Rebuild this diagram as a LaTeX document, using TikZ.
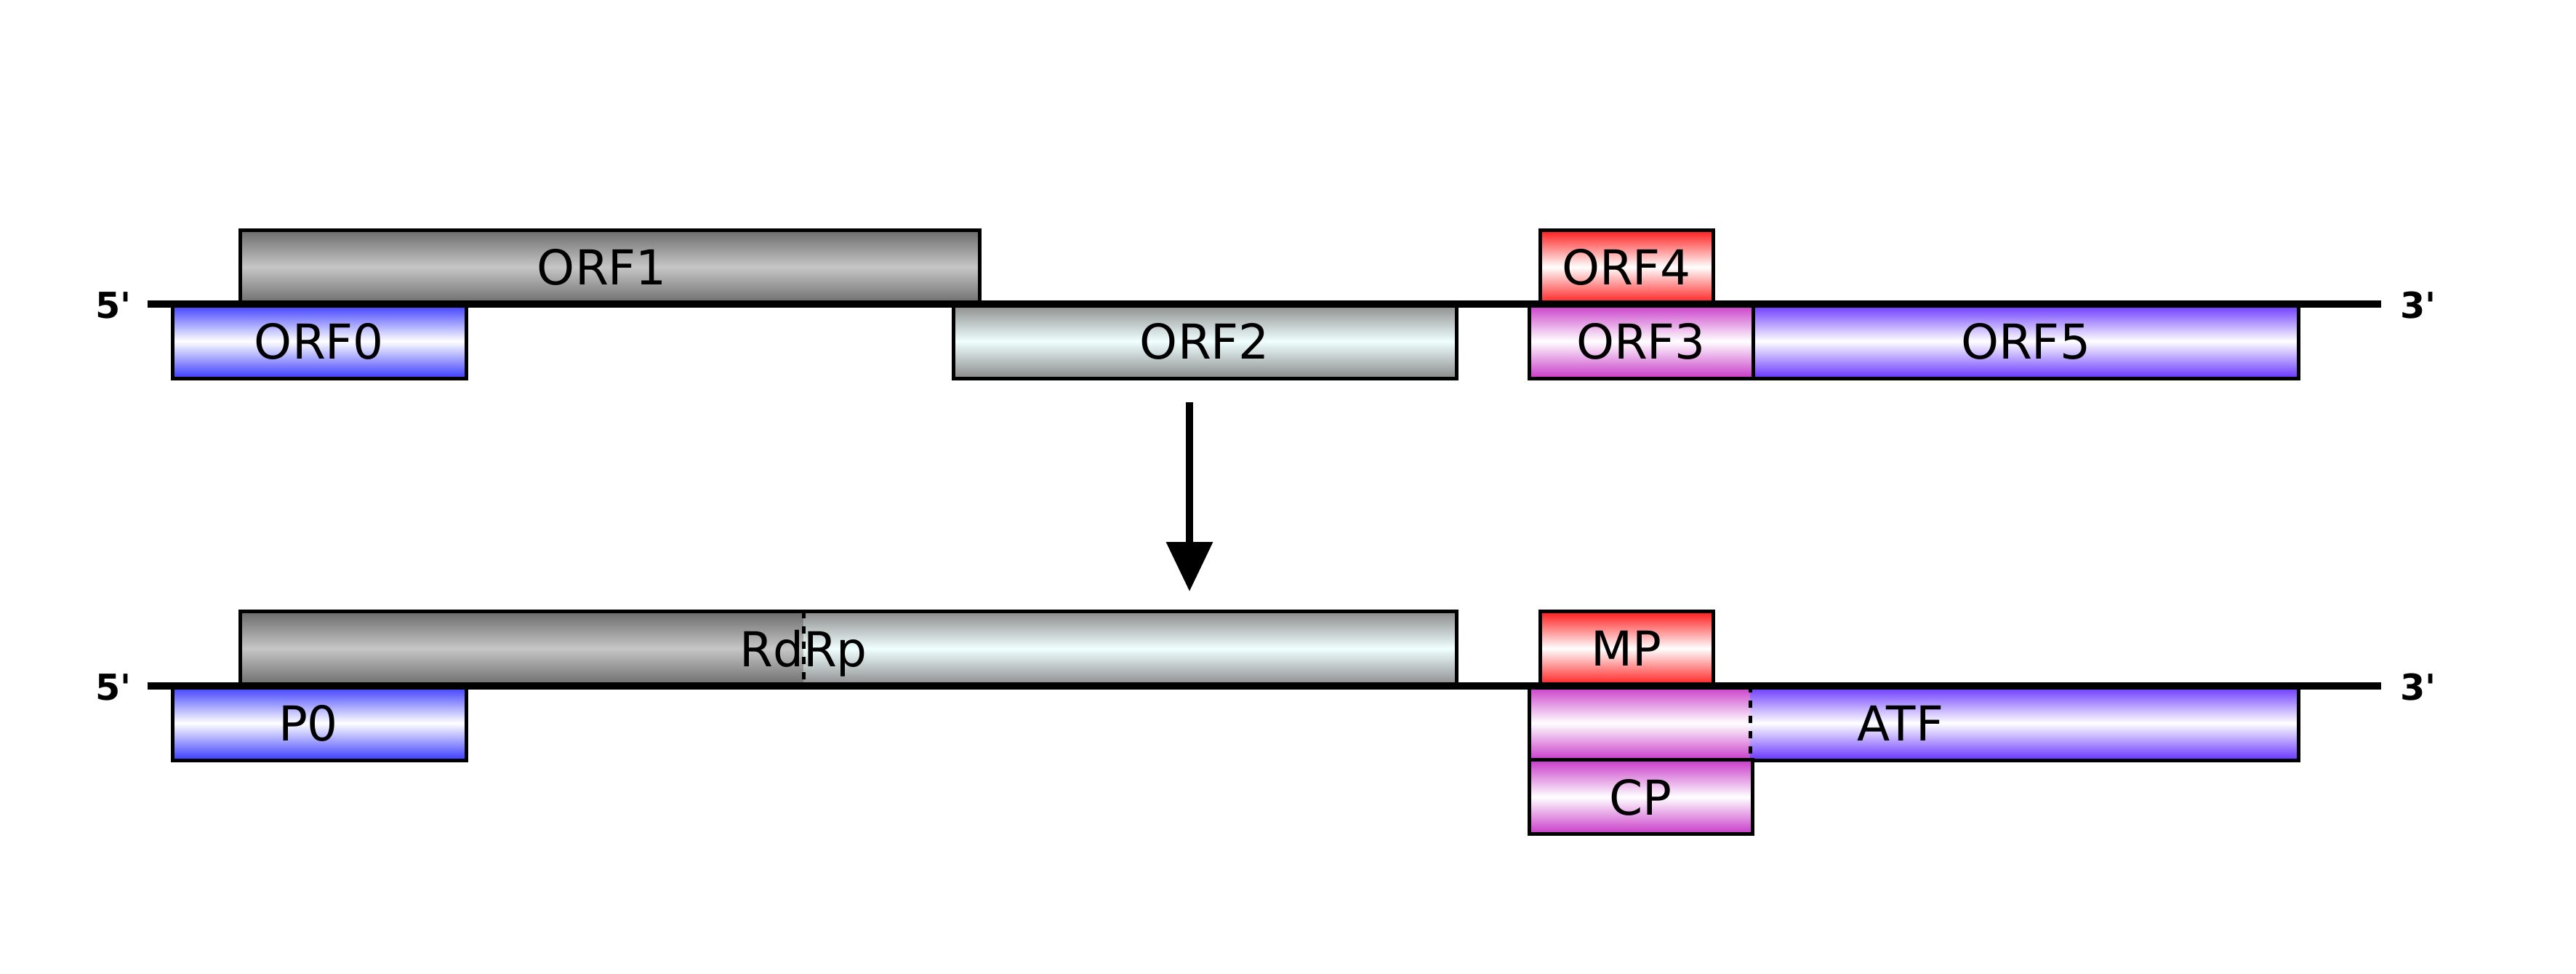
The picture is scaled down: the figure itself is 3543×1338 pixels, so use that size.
\documentclass[tikz,border=0pt]{standalone}
\usepackage{fontspec}
\setmainfont{DejaVu Sans}
\usetikzlibrary{arrows.meta}

\def\px{0.01cm}
\def\bh{102}
\def\lbl{\fontsize{18.8}{22}\selectfont}
\def\pr{\textquotesingle}
\definecolor{grayedge}{HTML}{6B6B6B}
\definecolor{graymid}{HTML}{C6C6C6}
\definecolor{silveredge}{HTML}{8A8A8A}
\definecolor{silvermid}{HTML}{F0FFFF}
\definecolor{blueedge}{HTML}{3A3AFF}
\definecolor{rededge}{HTML}{FF1A1A}
\definecolor{pinkedge}{HTML}{C838C8}
\definecolor{violetedge}{HTML}{6633FF}

\tikzstyle{box}=[rectangle,draw=black,line width=1.42pt,inner sep=0pt,minimum height=\bh*\px,font=\lbl,text depth=0pt]
\tikzstyle{part}=[rectangle,draw=none,inner sep=0pt,minimum height=\bh*\px]
\tikzstyle{gr}=[top color=grayedge,bottom color=grayedge,middle color=graymid]
\tikzstyle{sv}=[top color=silveredge,bottom color=silveredge,middle color=silvermid]
\tikzstyle{bl}=[top color=blueedge,bottom color=blueedge,middle color=white]
\tikzstyle{re}=[top color=rededge,bottom color=rededge,middle color=white]
\tikzstyle{pk}=[top color=pinkedge,bottom color=pinkedge,middle color=white]
\tikzstyle{vi}=[top color=violetedge,bottom color=violetedge,middle color=white]
\tikzstyle{lab}=[font=\lbl,text depth=0pt,inner sep=0pt]
\tikzstyle{prime}=[font=\fontsize{14}{16}\selectfont\bfseries,inner sep=0pt]
\tikzstyle{genome}=[line width=2.85pt]
\tikzstyle{split}=[line width=1.42pt,dash pattern=on 2.85pt off 3.13pt]
\tikzstyle{flow}=[line width=2.85pt,-{Triangle[width=17.6pt,length=19.3pt]}]

\begin{document}
\begin{tikzpicture}[x=\px,y=-\px]
	\fill[white](0,0) rectangle (3543,1338);
	\useasboundingbox (0,0) rectangle (3543,1338);
	% ORFs
	\node[box,gr,minimum width=1017*\px](orf1) at (838.5,367){};
	\node[lab](orf1lbl) at (828,367){ORF1};
	\node[box,bl,minimum width=404*\px](orf0) at (439,469){ORF0};
	\node[box,sv,minimum width=692*\px](orf2) at (1657,469){ORF2};
	\node[box,re,minimum width=238*\px](orf4) at (2237,367){ORF4};
	\node[box,pk,minimum width=308*\px](orf3) at (2257,469){ORF3};
	\node[box,vi,minimum width=750*\px](orf5) at (2786,469){ORF5};
	\coordinate (g1a) at (203,418);
	\coordinate (g1b) at (3275,418);
	\draw[genome](g1a)--(g1b);
	\node[prime](p5a) at (156,420){5\pr};
	\node[prime](p3a) at (3326,420){3\pr};
	% arrow
	\coordinate (a1) at (1636,553);
	\coordinate (a2) at (1636,813);
	\draw[flow](a1)--(a2);
	% proteins
	\node[part,gr,minimum width=775*\px](rd) at (717.5,891.5){};
	\node[part,sv,minimum width=898*\px](rp) at (1554,891.5){};
	\node[box,minimum width=1673*\px](rdrp) at (1166.5,891.5){};
	\draw[split](rd.north east)--(rd.south east);
	\node[lab](rdrplbl) at (1105,891.5){RdRp};
	\node[box,bl,minimum width=404*\px](p0) at (439,994){};
	\node[lab](p0lbl) at (424,994){P0};
	\node[box,re,minimum width=238*\px](mp) at (2237,891.5){MP};
	\node[part,pk,minimum width=304*\px](at1) at (2255,994){};
	\node[part,vi,minimum width=754*\px](at2) at (2784,994){};
	\node[box,minimum width=1058*\px](atf) at (2632,994){};
	\draw[split](at1.north east)--(at1.south east);
	\node[lab](atflbl) at (2614,994){ATF};
	\node[box,pk,minimum width=307*\px](cp) at (2256.5,1095.5){CP};
	\coordinate (g2a) at (203,943);
	\coordinate (g2b) at (3275,943);
	\draw[genome](g2a)--(g2b);
	\node[prime](p5b) at (156,945){5\pr};
	\node[prime](p3b) at (3326,945){3\pr};
\end{tikzpicture}
\end{document}
